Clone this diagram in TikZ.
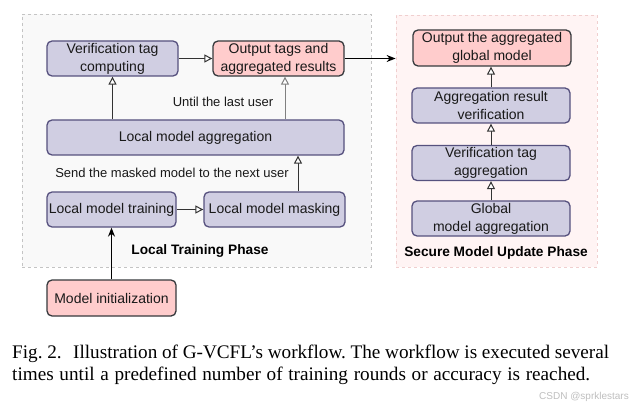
\documentclass[tikz,border=0pt]{standalone}
\usepackage{fontspec}
\setmainfont{Liberation Sans}
\newfontfamily\capfont{Liberation Serif}
\usetikzlibrary{arrows.meta}
\definecolor{purfill}{HTML}{D0CEE2}
\definecolor{purdraw}{HTML}{56517E}
\definecolor{pinkfill}{HTML}{FFCCCC}
\definecolor{pinkdraw}{HTML}{36393D}
\definecolor{lbg}{HTML}{F9F9F9}
\definecolor{rbg}{HTML}{FFF4F4}
\definecolor{dashc}{HTML}{C4C4C4}
\definecolor{rdashc}{HTML}{F0CFCF}
\frenchspacing
\begin{document}
\begin{tikzpicture}[x=1pt,y=-1pt,
  box/.style={rounded corners=5pt, line width=1.3pt, minimum height=35pt, align=center,
    font=\fontsize{14}{18}\selectfont, inner sep=0pt, text=black!90},
  pbox/.style={box, fill=purfill, draw=purdraw},
  kbox/.style={box, fill=pinkfill, draw=pinkdraw},
  region/.style={dashed, line width=0.8pt, inner sep=0pt},
  oarr/.style={-{Triangle[fill=white,length=8pt,width=8pt]}, line width=1pt, draw=black!80},
  farr/.style={-{Stealth[length=9pt,width=7pt]}, line width=1.2pt, draw=black},
  lbl/.style={font=\fontsize{13}{15}\selectfont, inner sep=0pt, text=black!90},
  phasetitle/.style={font=\bfseries\fontsize{13.7}{16}\selectfont, inner sep=0pt},
  captext/.style={anchor=base west, inner sep=0pt, font=\capfont\fontsize{19.2}{22}\selectfont}
]
\useasboundingbox (0,0) rectangle (639,406);
\fill[white] (0,0) rectangle (639,406);

% phase regions
\node[region, draw=dashc, fill=lbg, minimum width=349pt, minimum height=253pt] (lreg) at (196.5,140.5) {};
\node[region, draw=rdashc, fill=rbg, minimum width=201pt, minimum height=252pt] (rreg) at (496.5,141) {};

% left nodes
\node[pbox, minimum width=131pt] (vtc) at (112.5,58.5) {Verification tag\\computing};
\node[kbox, minimum width=131pt] (otr) at (278.5,58.5) {Output tags and\\aggregated results};
\node[pbox, minimum width=297pt] (lma) at (195.5,137.5) {Local model aggregation};
\node[pbox, minimum width=129pt] (lmt) at (111.5,209.5) {Local model training};
\node[pbox, minimum width=141pt] (lmm) at (274.5,209.5) {Local model masking};
\node[kbox, minimum width=129pt, minimum height=36pt] (mi) at (111.5,298) {Model initialization};

% right nodes
\node[kbox, minimum width=158pt, minimum height=36pt] (oagm) at (492,48) {Output the aggregated\\global model};
\node[pbox, minimum width=158pt] (arv) at (491,105.5) {Aggregation result\\verification};
\node[pbox, minimum width=158pt] (vta) at (491,163) {Verification tag\\aggregation};
\node[pbox, minimum width=158pt] (gma) at (491,218.5) {Global\\model aggregation};

% labels
\node[lbl] (l1) at (223,102) {Until the last user};
\node[lbl] (l2) at (172,173) {Send the masked model to the next user};
\node[phasetitle] (t1) at (200,251) {Local Training Phase};
\node[phasetitle] (t2) at (496,253) {Secure Model Update Phase};

% helper coordinates
\coordinate (c1) at (285,0);
\coordinate (c2) at (298,0);

% connectors
\draw[oarr] (vtc.east) -- (otr.west);
\draw[oarr] (lma.north -| vtc.south) -- (vtc.south);
\draw[oarr, draw=black!50] (lma.north -| c1) -- (otr.south -| c1);
\draw[oarr] (lmm.north -| c2) -- (lma.south -| c2);
\draw[oarr] (lmt.east) -- (lmm.west);
\draw[farr] (mi.north) -- (lmt.south);
\draw[farr] (otr.east) -- (otr.east -| rreg.west);
\draw[oarr] (gma.north) -- (vta.south);
\draw[oarr] (vta.north) -- (arv.south);
\draw[oarr] (arv.north) -- (arv.north |- oagm.south);

% caption
\node[captext] (cap1) at (12,358.5)
  {\hbox to 597pt{Fig.~2.\hspace{0.6em}Illustration of G-VCFL’s workflow. The workflow is executed several}};
\node[captext] (cap2) at (12,380.5)
  {\hbox to 578pt{times until a predefined number of training rounds or accuracy is reached.}};
\node[inner sep=0pt, font=\fontsize{10}{12}\selectfont, text=black!25] (wm) at (584,397) {CSDN @sprklestars};
\end{tikzpicture}
\end{document}
